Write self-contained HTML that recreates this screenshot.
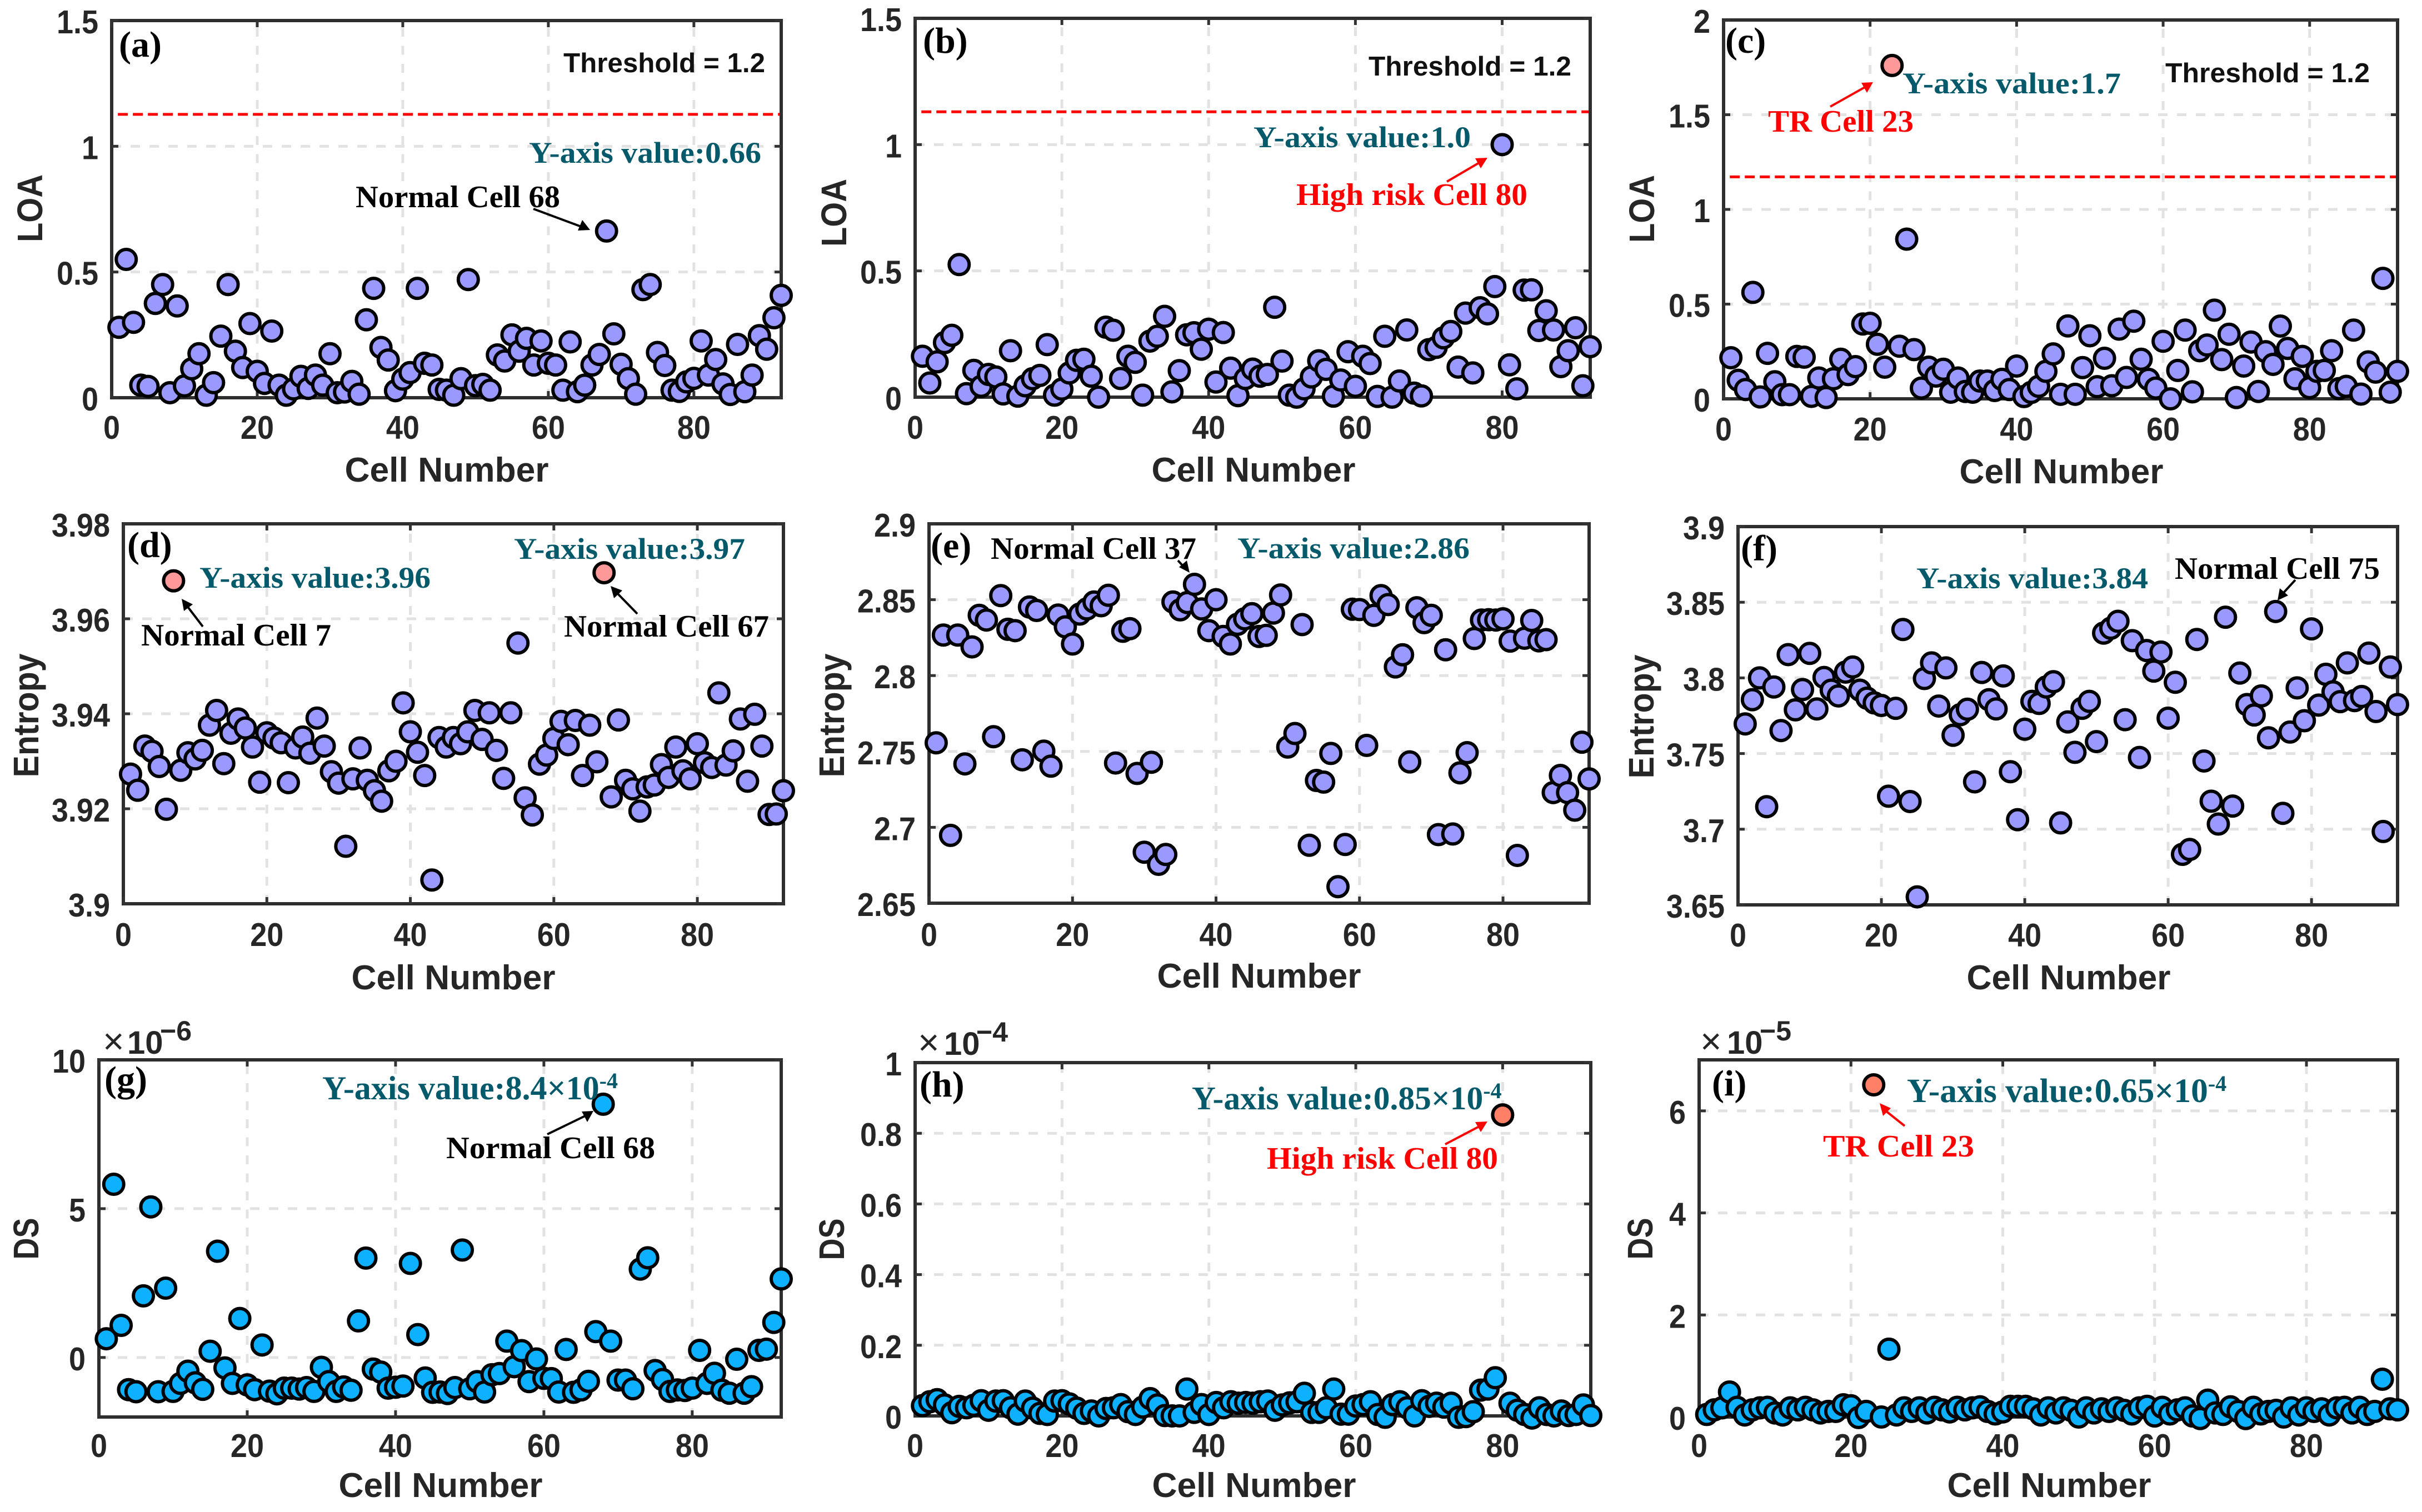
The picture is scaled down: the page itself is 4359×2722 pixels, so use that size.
<!DOCTYPE html>
<html lang="en">
<head>
<meta charset="utf-8">
<title>LOA, Entropy and DS by Cell Number</title>
<style>
html,body{margin:0;padding:0;background:#fff;width:4359px;height:2722px;overflow:hidden}
svg{display:block}
.sans{font-family:"Liberation Sans",Arial,sans-serif;font-weight:bold;fill:#262626}
.serif{font-family:"Liberation Serif","Times New Roman",serif;font-weight:bold}
.tag{font-size:66px;fill:#000}
.thr{font-size:49px;fill:#111}
.val{font-size:54px;fill:#04596a}
.val2{font-size:59px;fill:#04596a}
.note{font-size:56px;fill:#000}
.risk{font-size:56px;fill:#f00}
.sup{font-size:40px}
.exp{font-size:58px}
</style>
</head>
<body>
<svg id="figure" xmlns="http://www.w3.org/2000/svg" width="4359" height="2722" viewBox="0 0 4359 2722">
<rect x="0" y="0" width="4359" height="2722" fill="#fff"/>

<g id="plot-a"></g>
<g id="plot-b"></g>
<g id="plot-c"></g>
<g id="plot-d"></g>
<g id="plot-e"></g>
<g id="plot-f"></g>
<g id="plot-g"></g>
<g id="plot-h"></g>
<g id="plot-i"></g>

<!-- panel a annotations -->
<text class="serif tag" x="214" y="102">(a)</text>
<text class="sans thr" x="1014" y="130" textLength="363" lengthAdjust="spacingAndGlyphs">Threshold = 1.2</text>
<text class="serif val" x="952" y="293" textLength="418" lengthAdjust="spacingAndGlyphs">Y-axis value:0.66</text>
<text class="serif note" x="640" y="373" textLength="368" lengthAdjust="spacingAndGlyphs">Normal Cell 68</text>
<g><line x1="960" y1="376" x2="1046" y2="408" stroke="#000" stroke-width="4"/><polygon points="1062,414 1040,415 1048,396" fill="#000"/></g>

<!-- panel b annotations -->
<text class="serif tag" x="1661" y="95">(b)</text>
<text class="sans thr" x="2463" y="136" textLength="365" lengthAdjust="spacingAndGlyphs">Threshold = 1.2</text>
<text class="serif val" x="2256" y="265" textLength="391" lengthAdjust="spacingAndGlyphs">Y-axis value:1.0</text>
<text class="serif risk" x="2333" y="369" textLength="416" lengthAdjust="spacingAndGlyphs">High risk Cell 80</text>
<g><line x1="2604" y1="327" x2="2662" y2="293" stroke="#f00" stroke-width="4"/><polygon points="2677,284 2665,303 2655,285" fill="#f00"/></g>

<!-- panel c annotations -->
<text class="serif tag" x="3105" y="95">(c)</text>
<text class="sans thr" x="3897" y="148" textLength="368" lengthAdjust="spacingAndGlyphs">Threshold = 1.2</text>
<text class="serif val" x="3424" y="168" textLength="393" lengthAdjust="spacingAndGlyphs">Y-axis value:1.7</text>
<text class="serif risk" x="3182" y="237" textLength="262" lengthAdjust="spacingAndGlyphs">TR Cell 23</text>
<g><line x1="3294" y1="192" x2="3358" y2="156" stroke="#f00" stroke-width="4"/><polygon points="3371,148 3360,167 3350,149" fill="#f00"/></g>

<!-- panel d annotations -->
<text class="serif tag" x="229" y="1003">(d)</text>
<text class="serif val" x="359" y="1058" textLength="416" lengthAdjust="spacingAndGlyphs">Y-axis value:3.96</text>
<text class="serif val" x="925" y="1006" textLength="416" lengthAdjust="spacingAndGlyphs">Y-axis value:3.97</text>
<text class="serif note" x="254" y="1162" textLength="342" lengthAdjust="spacingAndGlyphs">Normal Cell 7</text>
<text class="serif note" x="1015" y="1146" textLength="369" lengthAdjust="spacingAndGlyphs">Normal Cell 67</text>
<g><line x1="365" y1="1128" x2="336" y2="1090" stroke="#000" stroke-width="4"/><polygon points="327,1078 347,1088 331,1100" fill="#000"/></g>
<g><line x1="1147" y1="1105" x2="1109" y2="1066" stroke="#000" stroke-width="4"/><polygon points="1099,1055 1120,1063 1105,1077" fill="#000"/></g>

<!-- panel e annotations -->
<text class="serif tag" x="1675" y="1004">(e)</text>
<text class="serif note" x="1783" y="1006" textLength="370" lengthAdjust="spacingAndGlyphs">Normal Cell 37</text>
<text class="serif val" x="2227" y="1005" textLength="418" lengthAdjust="spacingAndGlyphs">Y-axis value:2.86</text>
<g><line x1="2120" y1="1009" x2="2132" y2="1022" stroke="#000" stroke-width="4"/><polygon points="2141,1031 2122,1021 2136,1009" fill="#000"/></g>

<!-- panel f annotations -->
<text class="serif tag" x="3133" y="1009">(f)</text>
<text class="serif val" x="3449" y="1059" textLength="417" lengthAdjust="spacingAndGlyphs">Y-axis value:3.84</text>
<text class="serif note" x="3914" y="1042" textLength="369" lengthAdjust="spacingAndGlyphs">Normal Cell 75</text>
<g><line x1="4131" y1="1044" x2="4109" y2="1068" stroke="#000" stroke-width="4"/><polygon points="4099,1081 4103,1059 4118,1072" fill="#000"/></g>

<!-- panel g annotations -->
<text class="serif tag" x="188" y="1965">(g)</text>
<text class="serif val2" style="font-size:60px" x="580" y="1979">Y-axis value:8.4×10<tspan class="sup" dy="-20">-4</tspan></text>
<text class="serif note" x="803" y="2085" textLength="376" lengthAdjust="spacingAndGlyphs">Normal Cell 68</text>
<g><line x1="985" y1="2042" x2="1053" y2="2009" stroke="#000" stroke-width="4"/><polygon points="1068,2000 1057,2020 1047,2001" fill="#000"/></g>
<text class="sans" x="185" y="1897"><tspan font-weight="normal" font-size="66">×</tspan><tspan class="exp" x="229">10</tspan><tspan font-size="50" x="288" dy="-24">−6</tspan></text>

<!-- panel h annotations -->
<text class="serif tag" x="1655" y="1974">(h)</text>
<text class="serif val2" style="font-size:59.5px" x="2145" y="1997">Y-axis value:0.85×10<tspan class="sup" dy="-20">-4</tspan></text>
<text class="serif risk" x="2280" y="2104" textLength="416" lengthAdjust="spacingAndGlyphs">High risk Cell 80</text>
<g><line x1="2601" y1="2060" x2="2662" y2="2028" stroke="#f00" stroke-width="4"/><polygon points="2677,2019 2665,2038 2655,2020" fill="#f00"/></g>
<text class="sans" x="1652" y="1899"><tspan font-weight="normal" font-size="66">×</tspan><tspan class="exp" x="1699">10</tspan><tspan font-size="50" x="1757" dy="-24">−4</tspan></text>

<!-- panel i annotations -->
<text class="serif tag" x="3081" y="1972">(i)</text>
<text class="serif val2" style="font-size:61.5px" x="3432" y="1984">Y-axis value:0.65×10<tspan class="sup" dy="-20">-4</tspan></text>
<text class="serif risk" x="3281" y="2082" textLength="272" lengthAdjust="spacingAndGlyphs">TR Cell 23</text>
<g><line x1="3428" y1="2027" x2="3394" y2="2000" stroke="#f00" stroke-width="4"/><polygon points="3383,1986 3403,1995 3389,2009" fill="#f00"/></g>
<text class="sans" x="3060" y="1897"><tspan font-weight="normal" font-size="66">×</tspan><tspan class="exp" x="3108">10</tspan><tspan font-size="50" x="3167" dy="-24">−5</tspan></text>
</svg>

<script>
// ---------- chart data ----------
const xTicks = [0, 20, 40, 60, 80];
const xTickLabels = ['0', '20', '40', '60', '80'];
const xLimits = [0, 92];
const xTitle = 'Cell Number';

const loaCellsA = [
  .28,.55,.30,.05,.045,.375,.45,.02,.365,.047,
  .115,.175,.01,.06,.245,.45,.185,.12,.295,.105,
  .057,.265,.05,.01,.035,.085,.037,.09,.05,.175,
  .02,.023,.065,.014,.31,.435,.2,.15,.028,.074,
  .1,.435,.137,.13,.033,.03,.01,.076,.47,.048,
  .053,.03,.17,.146,.25,.185,.236,.13,.226,.137,
  .13,.03,.222,.024,.05,.13,.172,.663,.254,.133,
  .076,.014,.43,.45,.18,.128,.03,.025,.063,.077,
  .226,.09,.152,.055,.013,.212,.024,.09,.247,.193,
  .318,.407];
const loaCellsB = [
  .162,.056,.14,.216,.245,.525,.014,.106,.043,.09,
  .08,.013,.184,.004,.045,.073,.086,.208,.008,.032,
  .096,.146,.15,.083,0,.277,.265,.074,.162,.138,
  .008,.222,.241,.32,.021,.105,.247,.255,.19,.269,
  .06,.256,.115,.006,.074,.111,.083,.09,.356,.143,
  .008,0,.033,.08,.144,.11,.004,.068,.18,.043,
  .162,.133,.003,.241,0,.064,.266,.016,.005,.188,
  .197,.235,.26,.119,.333,.096,.354,.33,.438,1.0,
  .128,.033,.424,.425,.264,.342,.266,.121,.184,.275,
  .045,.2];
const loaCellsC = [
  .217,.098,.049,.562,.01,.24,.09,.022,.022,.224,
  .22,.013,.11,.007,.106,.209,.128,.17,.395,.399,
  .288,.167,1.76,.278,.843,.26,.057,.167,.12,.156,
  .035,.11,.039,.035,.094,.094,.044,.103,.049,.173,
  .012,.034,.066,.145,.237,.024,.385,.024,.165,.333,
  .064,.214,.069,.368,.113,.41,.209,.103,.057,.304,
  0,.15,.363,.037,.254,.284,.468,.207,.341,.007,
  .173,.3,.039,.249,.182,.384,.266,.106,.224,.059,
  .145,.15,.254,.054,.066,.363,.025,.195,.141,.636,
  .035,.145];
const entropyCellsD = [
  3.9273,3.9239,3.9332,3.9321,3.9289,3.9199,3.968,3.9281,3.9318,3.9305,
  3.9323,3.9376,3.9407,3.9295,3.9359,3.9389,3.937,3.933,3.9256,3.936,
  3.9349,3.9339,3.9255,3.9328,3.9351,3.9317,3.9391,3.9332,3.9278,3.9254,
  3.9121,3.9263,3.9328,3.926,3.9238,3.9216,3.928,3.93,3.9423,3.9362,
  3.9319,3.927,3.905,3.935,3.933,3.935,3.9337,3.9362,3.9407,3.9346,
  3.9402,3.9323,3.9264,3.9402,3.9549,3.9223,3.9187,3.9294,3.9313,3.9348,
  3.9384,3.9335,3.9386,3.927,3.9376,3.9299,3.9697,3.9225,3.9387,3.926,
  3.9242,3.9195,3.9246,3.925,3.9293,3.9266,3.933,3.928,3.9263,3.9337,
  3.9297,3.9287,3.9444,3.9292,3.9322,3.9389,3.9258,3.9399,3.9332,3.9188,
  3.9189,3.9238];
const entropyCellsE = [
  2.7557,2.8267,2.6947,2.8267,2.7418,2.8189,2.8397,2.8366,2.7597,2.8527,
  2.8305,2.8296,2.7445,2.8452,2.8429,2.7502,2.7403,2.8399,2.8321,2.8208,
  2.8405,2.8439,2.8485,2.846,2.8529,2.7424,2.8292,2.8309,2.7355,2.6836,
  2.7429,2.6756,2.6821,2.8485,2.8433,2.8481,2.8601,2.8439,2.8296,2.85,
  2.8258,2.8208,2.8338,2.8374,2.8408,2.8258,2.8265,2.8412,2.8531,2.7529,
  2.7618,2.8336,2.6882,2.7309,2.7298,2.7487,2.6609,2.6887,2.8437,2.8435,
  2.754,2.8397,2.8527,2.8468,2.8057,2.8137,2.7431,2.8447,2.8349,2.8397,
  2.6952,2.817,2.6956,2.7359,2.7492,2.8244,2.8366,2.8368,2.8366,2.8374,
  2.8227,2.6815,2.8246,2.8363,2.8229,2.8237,2.7229,2.7342,2.7229,2.7113,
  2.7561,2.7319];
const entropyCellsF = [
  3.7696,3.7856,3.8,3.7149,3.794,3.7652,3.8154,3.7789,3.7923,3.8162,
  3.7795,3.8003,3.7919,3.7881,3.8038,3.8072,3.7919,3.7866,3.7835,3.7818,
  3.7218,3.7799,3.832,3.7183,3.6553,3.7996,3.8099,3.7814,3.8066,3.7621,
  3.7757,3.7793,3.7313,3.8036,3.7856,3.7795,3.8013,3.738,3.7063,3.7661,
  3.7845,3.7831,3.794,3.7975,3.7042,3.7709,3.7508,3.7799,3.7845,3.7579,
  3.8296,3.8328,3.8374,3.7724,3.8246,3.7474,3.8181,3.8045,3.8171,3.7734,
  3.7971,3.6834,3.6866,3.8254,3.7451,3.7185,3.7034,3.8401,3.7153,3.8032,
  3.7824,3.7755,3.7881,3.7604,3.8439,3.7105,3.7642,3.7934,3.7717,3.8324,
  3.782,3.8024,3.7908,3.7843,3.8099,3.785,3.7877,3.8164,3.7778,3.6985,
  3.8072,3.7824];
const dsCellsG = [
  .63,5.82,1.08,-1.08,-1.15,2.07,5.06,-1.15,2.33,-1.14,
  -.87,-.46,-.85,-1.07,.21,3.57,-.35,-.87,1.31,-.92,
  -1.08,.42,-1.13,-1.22,-1.03,-1.03,-1.06,-1.01,-1.14,-.33,
  -.81,-1.14,-.99,-1.1,1.23,3.34,-.39,-.49,-1.03,-1.0,
  -.96,3.16,.77,-.69,-1.17,-1.16,-1.21,-1.01,3.61,-1.05,
  -.81,-1.16,-.58,-.54,.55,-.31,.23,-.81,-.05,-.7,
  -.71,-1.16,.27,-1.17,-1.09,-.8,.87,8.51,.55,-.76,
  -.76,-1.05,2.97,3.35,-.44,-.74,-1.14,-1.09,-1.11,-1.03,
  .24,-.87,-.53,-1.1,-1.2,-.06,-1.2,-.98,.24,.28,
  1.18,2.64];
const dsCellsH = [
  .029,.040,.046,.031,.009,.027,.023,.030,.043,.016,
  .042,.043,.023,.005,.042,.022,.007,.004,.042,.043,
  .034,.022,.007,.014,0,.021,.023,.032,.012,.004,
  .025,.049,.031,.001,0,0,.076,.010,.032,.004,
  .038,.023,.040,.036,.038,.036,.040,.042,.016,.031,
  .037,.040,.064,.010,.010,.023,.076,.005,.005,.028,
  .032,.040,.004,-.004,.032,.040,.023,0,.043,.027,
  .036,.025,.036,-.004,-.002,.012,.073,.076,.108,.852,
  .036,.016,.004,-.006,.023,.004,0,.014,.001,.004,
  .031,.001];
const dsCellsI = [
  .05,.14,.18,.49,.19,.04,.14,.18,.19,.08,
  .04,.18,.14,.19,.14,.08,.11,.11,.24,.22,
  -.01,.11,6.51,0,1.33,.04,.18,.11,.18,.08,
  .19,.14,.1,.19,.14,.18,.2,.11,.06,.1,
  .21,.21,.21,.16,.04,.18,.08,.18,.13,0,
  .18,.08,.16,.11,.18,.13,.06,.18,.21,.02,
  .19,.06,.14,.18,.02,-.03,.33,.08,.05,.2,
  .11,-.03,.19,.06,.11,.13,0,.18,.04,.18,
  .11,.16,.04,.18,.19,.08,.19,.05,.11,.74,
  .16,.14];

const highlightCellsC = [23];
const highlightCellsD = [7, 67];
const highlightCellsH = [80];
const highlightCellsI = [23];

const thresholdA = 1.127;
const thresholdB = 1.13;
const thresholdC = 1.172;

const yTicksLoa15 = [0, 0.5, 1, 1.5];
const yTickLabelsLoa15 = ['0', '0.5', '1', '1.5'];
const yTicksLoa2 = [0, 0.5, 1, 1.5, 2];
const yTickLabelsLoa2 = ['0', '0.5', '1', '1.5', '2'];
const yTicksD = [3.9, 3.92, 3.94, 3.96, 3.98];
const yTickLabelsD = ['3.9', '3.92', '3.94', '3.96', '3.98'];
const yTicksE = [2.65, 2.7, 2.75, 2.8, 2.85, 2.9];
const yTickLabelsE = ['2.65', '2.7', '2.75', '2.8', '2.85', '2.9'];
const yTicksF = [3.65, 3.7, 3.75, 3.8, 3.85, 3.9];
const yTickLabelsF = ['3.65', '3.7', '3.75', '3.8', '3.85', '3.9'];
const yTicksG = [0, 5, 10];
const yTickLabelsG = ['0', '5', '10'];
const yTicksH = [0, 0.2, 0.4, 0.6, 0.8, 1];
const yTickLabelsH = ['0', '0.2', '0.4', '0.6', '0.8', '1'];
const yTicksI = [0, 2, 4, 6];
const yTickLabelsI = ['0', '2', '4', '6'];

// ---------- panel layout ----------
const BLUE = '#9999ff', CYAN = '#0db1ff', PINK = '#ff9999', CORAL = '#ff8066';
const panels = [
 {id:'a',box:[201,1406,37,716],yLim:[0,1.5],yT:yTicksLoa15,yL:yTickLabelsLoa15,v:loaCellsA,hi:[],fill:BLUE,hiFill:PINK,thr:thresholdA,yTitle:'LOA',yTitleX:76,yTitleY:375,yTitleLen:122,xTitleX:804,xTitleY:867,xLabelY:789},
 {id:'b',box:[1647,2862,33,715],yLim:[0,1.5],yT:yTicksLoa15,yL:yTickLabelsLoa15,v:loaCellsB,hi:[],fill:BLUE,hiFill:PINK,thr:thresholdB,yTitle:'LOA',yTitleX:1523,yTitleY:383,yTitleLen:122,xTitleX:2256,xTitleY:867,xLabelY:789},
 {id:'c',box:[3102,4315,36,718],yLim:[0,2],yT:yTicksLoa2,yL:yTickLabelsLoa2,v:loaCellsC,hi:highlightCellsC,fill:BLUE,hiFill:PINK,thr:thresholdC,yTitle:'LOA',yTitleX:2977,yTitleY:376,yTitleLen:122,xTitleX:3710,xTitleY:870,xLabelY:792},
 {id:'d',box:[222,1410,943,1627],yLim:[3.9,3.98],yT:yTicksD,yL:yTickLabelsD,v:entropyCellsD,hi:highlightCellsD,fill:BLUE,hiFill:PINK,thr:null,yTitle:'Entropy',yTitleX:69,yTitleY:1288,yTitleLen:223,xTitleX:816,xTitleY:1781,xLabelY:1702},
 {id:'e',box:[1672,2860,943,1626],yLim:[2.65,2.9],yT:yTicksE,yL:yTickLabelsE,v:entropyCellsE,hi:[],fill:BLUE,hiFill:PINK,thr:null,yTitle:'Entropy',yTitleX:1519,yTitleY:1288,yTitleLen:223,xTitleX:2266,xTitleY:1778,xLabelY:1702},
 {id:'f',box:[3128,4315,948,1629],yLim:[3.65,3.9],yT:yTicksF,yL:yTickLabelsF,v:entropyCellsF,hi:[],fill:BLUE,hiFill:PINK,thr:null,yTitle:'Entropy',yTitleX:2976,yTitleY:1290,yTitleLen:223,xTitleX:3723,xTitleY:1781,xLabelY:1703},
 {id:'g',box:[178,1406,1908,2551],yLim:[-2,10],yT:yTicksG,yL:yTickLabelsG,v:dsCellsG,hi:[],fill:CYAN,hiFill:CORAL,thr:null,yTitle:'DS',yTitleX:69,yTitleY:2230,yTitleLen:75,xTitleX:793,xTitleY:2695,xLabelY:2622},
 {id:'h',box:[1647,2863,1913,2549],yLim:[0,1],yT:yTicksH,yL:yTickLabelsH,v:dsCellsH,hi:highlightCellsH,fill:CYAN,hiFill:CORAL,thr:null,yTitle:'DS',yTitleX:1519,yTitleY:2231,yTitleLen:75,xTitleX:2257,xTitleY:2695,xLabelY:2622},
 {id:'i',box:[3058,4315,1908,2551],yLim:[0,7],yT:yTicksI,yL:yTickLabelsI,v:dsCellsI,hi:highlightCellsI,fill:CYAN,hiFill:CORAL,thr:null,yTitle:'DS',yTitleX:2974,yTitleY:2230,yTitleLen:75,xTitleX:3688,xTitleY:2695,xLabelY:2622}
];

const NS = 'http://www.w3.org/2000/svg';
function make(parent, tag, attrs) {
  const node = document.createElementNS(NS, tag);
  for (const key in attrs) node.setAttribute(key, attrs[key]);
  parent.appendChild(node);
  return node;
}

// tick text is taller than it is wide in the reference
function tickWidth(text) {
  let w = 0;
  for (const ch of text) w += (ch === '.' ? 0.278 : 0.556) * 54;
  return w;
}

function drawPanel(p) {
  const root = document.getElementById('plot-' + p.id);
  const [L, R, T, B] = p.box;
  const xScale = function (v) { return L + (v - xLimits[0]) / (xLimits[1] - xLimits[0]) * (R - L); };
  const yScale = function (v) { return B - (v - p.yLim[0]) / (p.yLim[1] - p.yLim[0]) * (B - T); };

  // grid lines
  xTicks.forEach(function (t) {
    if (t <= xLimits[0] || t >= xLimits[1]) return;
    const g = make(root, 'line', {x1: xScale(t), x2: xScale(t), y1: B, y2: T, stroke: '#e2e2e2', 'stroke-width': 5, 'stroke-dasharray': '16 16.5'});
    
    
  });
  p.yT.forEach(function (t) {
    if (t <= p.yLim[0] || t >= p.yLim[1]) return;
    const g = make(root, 'line', {x1: L, x2: R, y1: yScale(t), y2: yScale(t), stroke: '#e2e2e2', 'stroke-width': 5, 'stroke-dasharray': '17 17'});
    
    
  });

  // threshold line
  if (p.thr !== null) {
    const line = make(root, 'line', {x1: xScale(0.85), x2: R, y1: yScale(p.thr), y2: yScale(p.thr), stroke: '#f00', 'stroke-width': 5, 'stroke-dasharray': '18 9'});
    
    
  }

  // axes box
  const box = make(root, 'rect', {x: L, y: T, width: R - L, height: B - T, fill: 'none', stroke: '#2e2e2e', 'stroke-width': 6});
  
  

  // x ticks + labels
  xTicks.forEach(function (t, i) {
    const x = xScale(t);
    const tickB = make(root, 'line', {x1: x, x2: x, y1: B, y2: B - 12, stroke: '#333', 'stroke-width': 5});
    
    
    const tickT = make(root, 'line', {x1: x, x2: x, y1: T, y2: T + 12, stroke: '#333', 'stroke-width': 5});
    
    
    const label = make(root, 'text', {x: x, y: p.xLabelY + 1, 'text-anchor': 'middle', 'font-size': 59, class: 'sans', textLength: tickWidth(xTickLabels[i]), lengthAdjust: 'spacingAndGlyphs'});
    
    
    label.textContent = xTickLabels[i];
  });

  // y ticks + labels
  p.yT.forEach(function (t, i) {
    const y = yScale(t);
    const tickL = make(root, 'line', {x1: L, x2: L + 12, y1: y, y2: y, stroke: '#333', 'stroke-width': 5});
    
    
    const tickR = make(root, 'line', {x1: R, x2: R - 12, y1: y, y2: y, stroke: '#333', 'stroke-width': 5});
    
    
    const label = make(root, 'text', {x: L - 24, y: y + 23, 'text-anchor': 'end', 'font-size': 59, class: 'sans', textLength: tickWidth(p.yL[i]), lengthAdjust: 'spacingAndGlyphs'});
    
    
    label.textContent = p.yL[i];
  });

  // axis titles
  const xt = make(root, 'text', {x: p.xTitleX, y: p.xTitleY, 'text-anchor': 'middle', 'font-size': 62, class: 'sans', textLength: 367, lengthAdjust: 'spacingAndGlyphs'});
  
  
  xt.textContent = xTitle;
  const yt = make(root, 'text', {'text-anchor': 'middle', 'font-size': 64, class: 'sans', textLength: p.yTitleLen, lengthAdjust: 'spacingAndGlyphs', transform: 'translate(' + p.yTitleX + ',' + p.yTitleY + ') rotate(-90)'});
  
  
  yt.textContent = p.yTitle;

  // data points (cell number = index + 1)
  p.v.forEach(function (value, i) {
    const cell = i + 1;
    const isHi = p.hi.indexOf(cell) >= 0;
    const dot = make(root, 'circle', {cx: xScale(cell), cy: yScale(value), r: 18, fill: isHi ? p.hiFill : p.fill, stroke: '#000', 'stroke-width': 6});
    
    
  });
}

panels.forEach(drawPanel);
</script>
</body>
</html>
